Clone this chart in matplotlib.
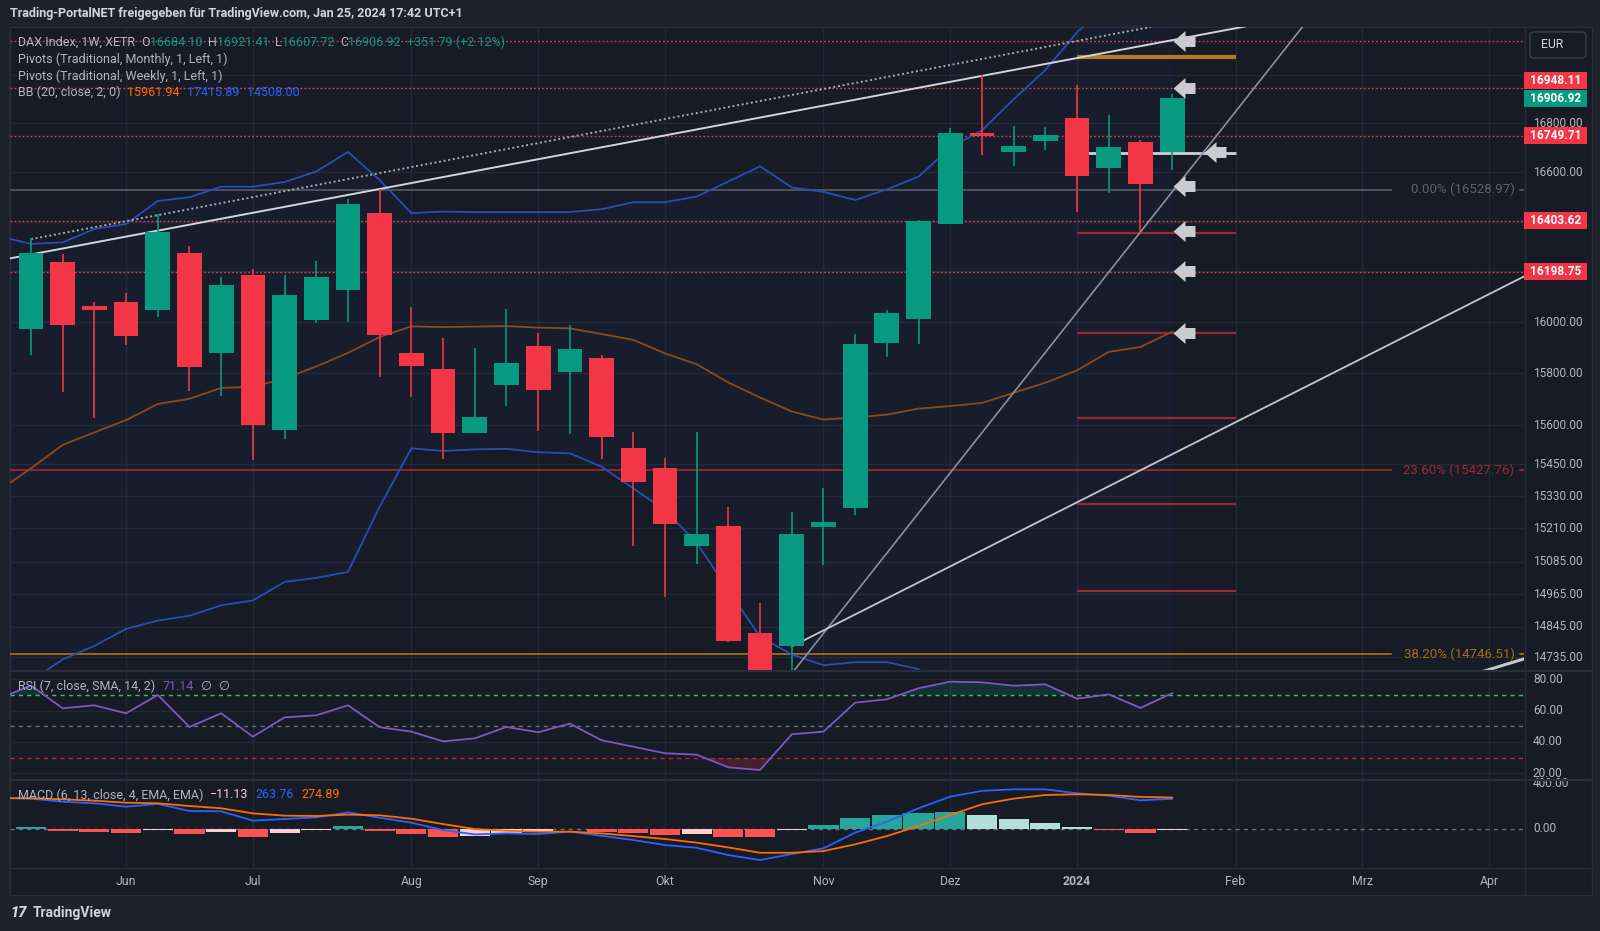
import numpy as np
import matplotlib.pyplot as plt
from matplotlib.path import Path
from matplotlib.patches import Rectangle, FancyBboxPatch

plt.rcParams['font.family'] = ['Roboto', 'DejaVu Sans']

# DAX weekly candles, week of 15 May 2023 .. week of 22 Jan 2024
opens = [15973, 16238, 16063, 16079, 16047, 16274, 15878, 16186, 15581, 16008, 16126, 16434,
         15878, 15816, 15570, 15755, 15906, 15806, 15859, 15512, 15437, 15142, 15218, 14824,
         14774, 15214, 15286, 15918, 16013, 16391, 16762, 16681, 16726, 16823, 16615, 16722, 16684.10]
highs = [16334, 16270, 16079, 16114, 16430, 16302, 16178, 16210, 16186, 16242, 16491, 16531,
         16060, 15936, 15897, 16051, 15958, 15988, 15870, 15573, 15475, 15573, 15289, 14932,
         15272, 15360, 15953, 16046, 16405, 16781, 17000, 16791, 16787, 16960, 16836, 16733, 16921.41]
lows = [15870, 15727, 15627, 15910, 16020, 15731, 15712, 15465, 15546, 15996, 16000, 15785,
        15709, 15469, 15570, 15674, 15578, 15565, 15470, 15142, 14955, 15076, 14790, 14630,
        14675, 15074, 15258, 15863, 15914, 16391, 16671, 16626, 16689, 16440, 16516, 16353, 16607.72]
closes = [16274, 15989, 16047, 15945, 16358, 15824, 16146, 15600, 16106, 16178, 16471, 15949,
          15828, 15570, 15631, 15840, 15736, 15894, 15555, 15385, 15226, 15188, 14795, 14687,
          15188, 15234, 15914, 16036, 16402, 16762, 16749, 16708, 16754, 16583, 16704, 16553, 16906.92]

# indicator series start one week earlier (week of 8 May, left edge of the chart)
bb_upper = [16340, 16310, 16316, 16370, 16390, 16483, 16498, 16541, 16541, 16560, 16603, 16683, 16568,
            16434, 16440, 16438, 16438, 16438, 16438, 16450, 16478, 16478, 16501, 16562, 16624,
            16538, 16520, 16487, 16530, 16582, 16700, 16772, 16900, 17022, 17180, 17300, 17360, 17415.89]
bb_basis = [15352, 15435, 15524, 15572, 15619, 15681, 15701, 15743, 15747, 15780, 15826, 15879, 15941,
            15983, 15980, 15982, 15984, 15978, 15975, 15953, 15930, 15877, 15835, 15764, 15706,
            15652, 15621, 15629, 15640, 15663, 15673, 15685, 15724, 15763, 15811, 15883, 15902, 15961.94]
bb_lower = [14560, 14650, 14727, 14776, 14838, 14868, 14886, 14924, 14942, 15010, 15025, 15047, 15290,
            15511, 15501, 15507, 15509, 15496, 15492, 15441, 15359, 15277, 15155, 14980, 14809,
            14745, 14706, 14717, 14717, 14692, 14600, 14520, 14450, 14400, 14380, 14420, 14470, 14508.00]

rsi = [67.8, 76.0, 61.5, 63.4, 58.3, 70.0, 49.6, 58.3, 43.4, 55.7, 57.0, 63.4, 49.4,
       46.6, 40.4, 42.3, 49.6, 46.2, 51.7, 41.1, 37.0, 32.8, 31.9, 23.8, 22.1,
       44.9, 46.6, 65.1, 67.2, 74.3, 78.5, 78.1, 75.9, 76.8, 67.6, 70.4, 61.7, 71.14]

macd = [270, 265, 238, 224, 194, 218, 156, 153, 71, 85, 100, 144, 97,
        53, -12, -50, -41, -47, -26, -62, -100, -144, -168, -232, -276,
        -223, -173, -35, 62, 180, 283, 333, 347, 347, 312, 291, 250, 263.76]
signal = [270, 268, 259, 247, 229, 224, 200, 180, 135, 115, 112, 124, 118,
          88, 41, -3, -18, -26, -26, -41, -65, -91, -123, -165, -212,
          -212, -197, -138, -65, 24, 121, 215, 265, 297, 303, 297, 280, 274.89]
hist = [15, -21, -29, -38, -12, -47, -29, -74, -38, -12, 26, -21,
        -47, -74, -65, -38, -29, -4, -29, -38, -56, -47, -74, -76,
        -12, 33, 94, 121, 138, 147, 121, 85, 50, 15, -12, -38, -11.13]

month_pos = [3, 7, 12, 16, 20, 25, 29, 33, 38, 42, 46]
month_lab = ['Jun', 'Jul', 'Aug', 'Sep', 'Okt', 'Nov', 'Dez', '2024', 'Feb', 'Mrz', 'Apr']
grid_ticks = [17000, 16800, 16600, 16400, 16200, 16000, 15800, 15600, 15450, 15330,
              15210, 15085, 14965, 14845, 14735]
# ticks whose labels are not hidden behind the price tags
label_ticks = [16800, 16600, 16000, 15800, 15600, 15450, 15330, 15210, 15085, 14965, 14845, 14735]

hline_levels = [17145, 16948.11, 16749.71, 16403.62, 16198.75]
label_levels = [16948.11, 16906.92, 16749.71, 16403.62, 16198.75]
label_up = [False, True, False, False, False]
fib_levels = [16528.97, 15427.76, 14746.51]
fib_names = ['0.00%', '23.60%', '38.20%']
pivot_levels = [17077, 16680, 16355, 15955, 15628, 15302, 14976]
arrow_levels = [17145, 16948, 16545, 16362, 16200, 15955]
arrow_p = 16684

W, H = 1600, 931
BG = '#171b26'
FRAME = '#1e222d'
GRID = '#242835'
TXT = '#b2b5be'
UP = '#089981'
DN = '#f23645'
XL = (-0.662, 47.1)

def rect(x0, y0, x1, y1):
    return [x0 / W, 1 - y1 / H, (x1 - x0) / W, (y1 - y0) / H]

fig = plt.figure(figsize=(W / 100, H / 100), dpi=100, facecolor=FRAME)
fig.patches.append(Rectangle((10 / W, 1 - 895 / H), 1582 / W, 868 / H, transform=fig.transFigure,
                             fc=BG, ec='#2a2e39', lw=1, zorder=-5))
idx = np.arange(len(closes))
idx_ind = np.arange(-1, len(closes))

# ---------------- price panel
ax = fig.add_axes(rect(10, 27, 1524, 670))
ax.set_yscale('log')
ax.set_xlim(*XL)
ax.set_ylim(14688.8, 17202.8)
ax.axis('off')
ax.hlines(grid_ticks, *XL, color=GRID, lw=1, zorder=0)
ax.vlines(month_pos, 14600, 17300, color=GRID, lw=1, zorder=0)

ax.fill_between(idx_ind, bb_lower, bb_upper, color='#2962ff', alpha=0.035, lw=0, zorder=1)
ax.plot(idx_ind, bb_upper, color='#2a4cb5', lw=1.3, zorder=3)
ax.plot(idx_ind, bb_lower, color='#2a4cb5', lw=1.3, zorder=3)
ax.plot(idx_ind, bb_basis, color='#8a4a1c', lw=1.3, zorder=3)

for p in hline_levels:
    ax.axhline(p, color='#d1434f', lw=1, ls=(0, (1.3, 1.6)), zorder=2)

fib_cols = ['#5d606b', '#b22833', '#c27b12']
fib_txt = ['#5d606b', '#9a2a36', '#a86b14']
ytr = ax.get_yaxis_transform()
for p, n, c, tc in zip(fib_levels, fib_names, fib_cols, fib_txt):
    ax.plot([XL[0], 42.9], [p, p], color=c, lw=1.1, zorder=2)
    ax.plot([46.98, XL[1]], [p, p], color=c, lw=1.1, zorder=2)
    ax.text(46.8, p, f'{n} ({p:.2f})', color=tc, fontsize=9.5, ha='right', va='center', zorder=2)

piv_cols = ['#b7791f'] + ['#cfd1d6'] + ['#9b2733'] * 5
piv_lw = [3, 2, 1.6, 1.6, 1.6, 1.6, 1.6]
for p, c, w in zip(pivot_levels, piv_cols, piv_lw):
    ax.plot([33, 38], [p, p], color=c, lw=w, solid_capstyle='butt', zorder=2)

# trend lines
ax.plot([-0.662, 38.3], [16252, 17205], color='#d1d4dc', lw=1.4, zorder=4)
ax.plot([0, 35.33], [16329, 17203], color='#a9acb4', lw=1.4, ls=(0, (1, 1.4)), zorder=4)
ax.plot([23.84, 40.28], [14653, 17232], color='#8d9099', lw=1.2, zorder=4)
ax.plot([24, 47.1], [14774, 16180], color='#c3c6cd', lw=1.3, zorder=4)
ax.plot([45.7, 47.1], [14680, 14729], color='#c3c6cd', lw=2.2, zorder=4)

for i in idx:
    col = UP if closes[i] >= opens[i] else DN
    ax.vlines(i, lows[i], highs[i], color=col, lw=1.2, zorder=5)
    ax.bar(i, abs(closes[i] - opens[i]), bottom=min(opens[i], closes[i]), width=0.78,
           color=col, zorder=6)

av = [(-11, 0), (1, 10.5), (1, 5.5), (11, 5.5), (11, -5.5), (1, -5.5), (1, -10.5), (-11, 0)]
arrow = Path(av, [Path.MOVETO] + [Path.LINETO] * 6 + [Path.CLOSEPOLY])
ax.plot([36.37] * len(arrow_levels), arrow_levels, ls='none', marker=arrow, ms=15.8,
        mfc='#c9cbd1', mec='none', zorder=8, clip_on=False)
ax.plot([37.35], [arrow_p], ls='none', marker=arrow, ms=15.8, mfc='#c9cbd1', mec='none', zorder=8)

for p in label_ticks:
    ax.text(1.0059, p, f'{p:.2f}', transform=ytr, color=TXT, fontsize=8.6, va='center',
            ha='left', clip_on=False)

offs = [-7, 1, 0, 0, 0]
for p, up, o in zip(label_levels, label_up, offs):
    yp = H - ax.transData.transform((0, p))[1] + o
    fig.patches.append(Rectangle((1524 / W, 1 - (yp + 8.5) / H), 63 / W, 17 / H,
                                 transform=fig.transFigure, fc=UP if up else DN, ec='none', zorder=5))
    fig.text(1555.5 / W, 1 - yp / H, f'{p:.2f}', color='white', fontsize=8.6, fontweight='bold',
             ha='center', va='center', zorder=6)

fig.patches.append(FancyBboxPatch((1530 / W, 1 - 58 / H), 56 / W, 26 / H,
                                  boxstyle='round,pad=0,rounding_size=0.003',
                                  transform=fig.transFigure, fc=BG, ec='#3b3f4b', lw=1, zorder=5))
fig.text(1541 / W, 1 - 44 / H, 'EUR', color='#d1d4dc', fontsize=8.8, va='center', zorder=6)

# ---------------- RSI panel
ax2 = fig.add_axes(rect(10, 671, 1524, 779))
ax2.set_xlim(*XL)
ax2.set_ylim(16.36, 85.3)
ax2.axis('off')
ax2.hlines([20, 40, 60, 80], *XL, color=GRID, lw=1, zorder=0)
ax2.vlines(month_pos, 0, 100, color=GRID, lw=1, zorder=0)
ax2.axhline(70, color='#3fbf4f', lw=1, ls=(0, (3, 3)))
ax2.axhline(50, color='#6b6e78', lw=1, ls=(0, (3, 3)))
ax2.axhline(30, color='#b22833', lw=1, ls=(0, (3, 3)))
r = np.array(rsi)
ax2.fill_between(idx_ind, r, 70, where=r > 70, interpolate=True, color='#089981', alpha=0.18, lw=0)
ax2.fill_between(idx_ind, r, 30, where=r < 30, interpolate=True, color='#f23645', alpha=0.2, lw=0)
ax2.plot(idx_ind, rsi, color='#7e57c2', lw=1.3)
ytr2 = ax2.get_yaxis_transform()
for v in [80, 60, 40, 20]:
    ax2.text(1.0059, v, f'{v:.2f}', transform=ytr2, color=TXT, fontsize=8.6, va='center', clip_on=False)

# ---------------- MACD panel
ax3 = fig.add_axes(rect(10, 781, 1524, 867))
ax3.set_xlim(*XL)
ax3.set_ylim(-337.4, 420.3)
ax3.axis('off')
ax3.vlines(month_pos, -400, 500, color=GRID, lw=1, zorder=0)
ax3.axhline(0, color='#6b6e78', lw=1, ls=(0, (3, 3)), zorder=1)
hcol = []
for i, h in enumerate(hist):
    prev = hist[i - 1] if i else h - 1
    if h >= 0:
        hcol.append('#26a69a' if h > prev else '#b2dfdb')
    else:
        hcol.append('#ffcdd2' if h > prev else '#ff5252')
ax3.bar(idx, hist, width=0.95, color=hcol, zorder=2)
ax3.plot(idx_ind, macd, color='#2962ff', lw=1.3, zorder=3)
ax3.plot(idx_ind, signal, color='#ff6d00', lw=1.3, zorder=3)
ytr3 = ax3.get_yaxis_transform()
for v in [400, 0]:
    ax3.text(1.0059, v, f'{v:.2f}', transform=ytr3, color=TXT, fontsize=8.6, va='center', clip_on=False)
xtr3 = ax3.get_xaxis_transform()
for pos, lab in zip(month_pos, month_lab):
    ax3.text(pos, -0.174, lab, transform=xtr3, color=TXT, fontsize=8.8, ha='center', va='center',
             fontweight='bold' if lab == '2024' else 'normal', clip_on=False)

for y in [670.5, 780]:
    fig.add_artist(plt.Line2D([10 / W, 1592 / W], [1 - y / H] * 2, color='#2a2e39', lw=1.5))
fig.add_artist(plt.Line2D([10 / W, 1592 / W], [1 - 867.5 / H] * 2, color='#2a2e39', lw=1))
fig.add_artist(plt.Line2D([1524.5 / W] * 2, [1 - 895 / H, 1 - 27 / H], color='#2a2e39', lw=1))

# ---------------- legends / texts
rend = fig.canvas.get_renderer()

def row(x, y, parts, size=9):
    for s, c, gap in parts:
        t = fig.text(x / W, 1 - y / H, s, color=c, fontsize=size, va='center', ha='left', zorder=7)
        x += t.get_window_extent(rend).width + gap

row(18, 42.5, [('DAX Index, 1W, XETR', TXT, 6), ('O', TXT, 0), (f'{opens[-1]:.2f}', UP, 6),
               ('H', TXT, 0), (f'{highs[-1]:.2f}', UP, 6), ('L', TXT, 0), (f'{lows[-1]:.2f}', UP, 6),
               ('C', TXT, 0), (f'{closes[-1]:.2f}', UP, 6), ('+351.79 (+2.12%)', UP, 0)])
row(18, 59.5, [('Pivots (Traditional, Monthly, 1, Left, 1)', TXT, 0)])
row(18, 76, [('Pivots (Traditional, Weekly, 1, Left, 1)', TXT, 0)])
row(18, 92.5, [('BB (20, close, 2, 0)', TXT, 7), (f'{bb_basis[-1]:.2f}', '#ff6d00', 7),
               (f'{bb_upper[-1]:.2f}', '#2962ff', 7), (f'{bb_lower[-1]:.2f}', '#2962ff', 0)])
row(18, 686, [('RSI (7, close, SMA, 14, 2)', TXT, 7), (f'{rsi[-1]:.2f}', '#7e57c2', 7),
              ('\u2205', TXT, 7), ('\u2205', TXT, 0)])
row(18, 795, [('MACD (6, 13, close, 4, EMA, EMA)', TXT, 7), (f'\u2212{-hist[-1]:.2f}', '#ffcdd2', 7),
              (f'{macd[-1]:.2f}', '#2962ff', 7), (f'{signal[-1]:.2f}', '#ff6d00', 0)])

fig.text(10 / W, 1 - 14 / H, 'Trading-PortalNET freigegeben für TradingView.com, Jan 25, 2024 17:42 UTC+1',
         color='#d1d4dc', fontsize=9, fontweight='bold', va='center')
fig.text(10 / W, 1 - 913 / H, '17', color='#d1d4dc', fontsize=10.5, fontweight='heavy', va='center',
         style='italic')
fig.text(33 / W, 1 - 913 / H, 'TradingView', color='#d1d4dc', fontsize=10, fontweight='bold', va='center')

fig.savefig('out.png', dpi=100, facecolor=FRAME)
